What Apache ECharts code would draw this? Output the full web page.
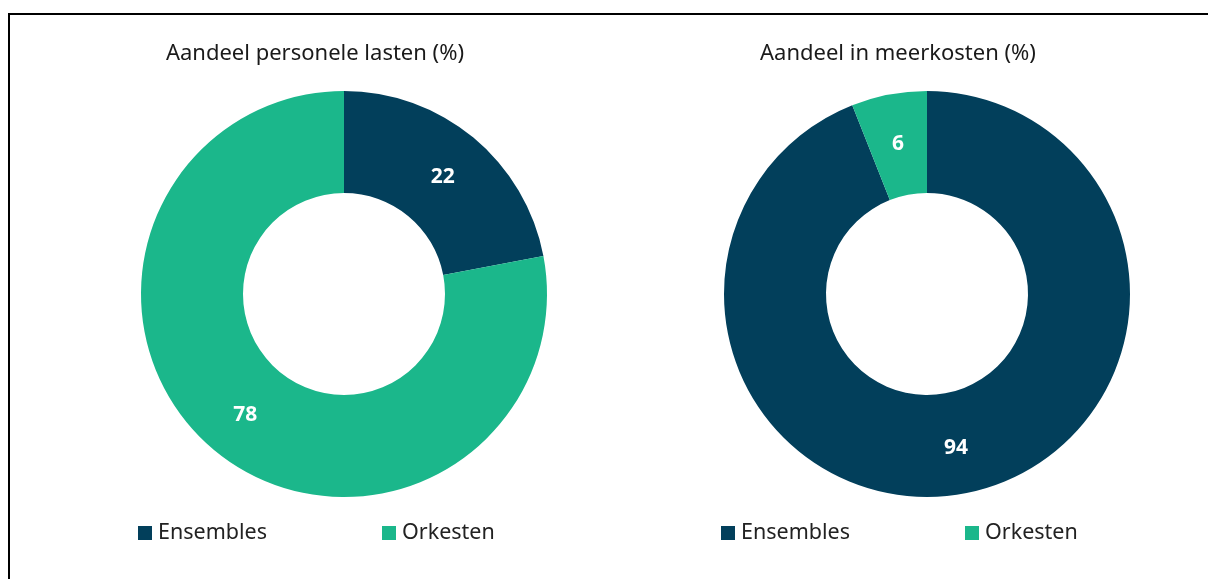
<!DOCTYPE html>
<html><head><meta charset="utf-8">
<script src="https://cdn.jsdelivr.net/npm/echarts@6/dist/echarts.min.js"></script>
<style>html,body{margin:0;padding:0;background:#fff}#c{width:1208px;height:579px}</style>
</head><body><div id="c"></div>
<script>
const categories = ['Ensembles', 'Orkesten'];
const titles = ['Aandeel personele lasten (%)', 'Aandeel in meerkosten (%)'];
const personeleLasten = [22, 78];
const meerkosten = [94, 6];
const colors = ['#023f5b', '#1bb78b'];
const FONT = '"Noto Sans", sans-serif';

const chart = echarts.init(document.getElementById('c'));
function pie(values, cx) {
  return {
    type: 'pie', center: [cx, 294], radius: [101, 203], startAngle: 90, clockwise: true,
    silent: true, avoidLabelOverlap: false,
    label: { show: true, position: 'inside', formatter: '{c}', color: '#fff', fontSize: 21, fontWeight: 'bold', fontFamily: FONT, offset: [0, 2] },
    labelLine: { show: false },
    itemStyle: { borderWidth: 0 },
    data: categories.map((n, i) => ({ name: n, value: values[i], itemStyle: { color: colors[i] } }))
  };
}
function legend(name, left) {
  return { data: [name], left: left, top: 522, padding: 0, itemWidth: 14, itemHeight: 14, itemGap: 6, icon: 'rect',
    selectedMode: false, textStyle: { fontSize: 21.5, color: '#222', fontFamily: FONT, padding: [0, 0, 0, 1] } };
}
chart.setOption({
  animation: false,
  title: [
    { text: titles[0], left: 310, top: 38, textAlign: 'center', textStyle: { fontSize: 22, fontWeight: 'normal', color: '#1a1a1a', fontFamily: FONT } },
    { text: titles[1], left: 893, top: 38, textAlign: 'center', textStyle: { fontSize: 22, fontWeight: 'normal', color: '#1a1a1a', fontFamily: FONT } }
  ],
  legend: [legend(categories[0], 138), legend(categories[1], 382), legend(categories[0], 721), legend(categories[1], 965)],
  graphic: [{ type: 'rect', shape: { x: 9, y: 14, width: 1220, height: 620 }, style: { fill: 'none', stroke: '#000', lineWidth: 2 }, silent: true }],
  series: [pie(personeleLasten, 344), pie(meerkosten, 927)]
});
</script></body></html>
